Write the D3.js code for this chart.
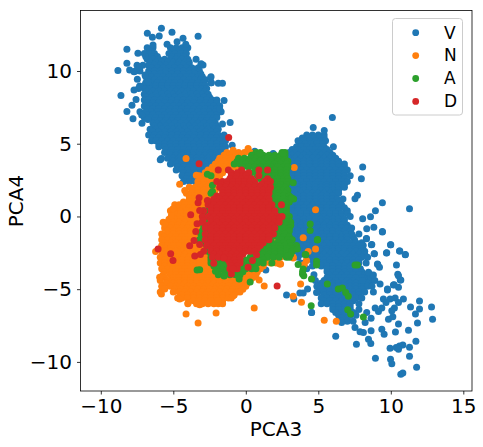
<!DOCTYPE html>
<html>
<head>
<meta charset="utf-8">
<script src="https://d3js.org/d3.v7.min.js"></script>
<style>
  html, body { margin: 0; padding: 0; background: #fff; }
  svg { display: block; }
  text { font-family: "DejaVu Sans", sans-serif; fill: #000; }
</style>
</head>
<body>
<div id="chart"></div>
<script>
const xTicks = [-10, -5, 0, 5, 10, 15];
const yTicks = [-10, -5, 0, 5, 10];
const labels = ['V', 'N', 'A', 'D'];
const colors = ['#1f77b4', '#ff7f0e', '#2ca02c', '#d62728'];

// dense parts of each cloud, one row per PCA4 value: [y, x, x, x ...]
const vRows = [
  [11.6,-6.8,-6.4,-5.2,-4.8,-4.4,-4.0],
  [11.4,-6.6,-5.0,-4.6,-4.2],
  [11.2,-7.0,-6.6,-6.3,-5.3,-4.9,-4.5,-4.1],
  [11.0,-6.9,-6.5,-6.1,-5.1,-4.7,-4.3],
  [10.8,-6.8,-6.4,-6.0,-5.6,-5.2,-4.8,-4.4,-4.0],
  [10.6,-6.6,-6.2,-5.8,-5.4,-5.0,-4.6,-4.2,-3.9],
  [10.4,-7.5,-7.1,-6.7,-6.3,-5.9,-5.5,-5.1,-4.7,-4.3,-3.9,-3.1],
  [10.2,-6.5,-6.1,-5.7,-5.3,-4.9,-4.5,-4.1,-3.7,-3.3],
  [10.0,-7.6,-7.3,-6.7,-6.3,-5.9,-5.5,-5.1,-4.7,-4.3,-3.9,-3.5,-3.2],
  [9.8,-6.7,-6.3,-5.9,-5.5,-5.1,-4.7,-4.3,-3.9,-3.5,-3.1],
  [9.6,-6.9,-6.5,-6.1,-5.7,-5.3,-4.9,-4.5,-4.1,-3.7,-3.3,-3.0,-2.4],
  [9.4,-6.7,-6.3,-5.9,-5.5,-5.1,-4.7,-4.3,-3.9,-3.5,-3.1,-2.8],
  [9.2,-6.9,-6.4,-6.1,-5.7,-5.3,-4.9,-4.5,-4.1,-3.7,-3.3,-2.9,-2.4],
  [9.0,-7.0,-6.6,-6.2,-5.8,-5.4,-5.0,-4.6,-4.2,-3.8,-3.4,-3.0,-2.8],
  [8.8,-7.4,-7.0,-6.6,-6.2,-5.8,-5.4,-5.0,-4.6,-4.2,-3.8,-3.4,-3.0,-2.7],
  [8.6,-6.8,-6.4,-6.0,-5.6,-5.2,-4.8,-4.4,-4.0,-3.6,-3.2,-2.8],
  [8.4,-7.0,-6.6,-6.2,-5.8,-5.4,-5.0,-4.6,-4.2,-3.8,-3.4,-3.0,-2.6],
  [8.2,-6.9,-6.5,-6.1,-5.7,-5.3,-4.9,-4.5,-4.1,-3.7,-3.3,-2.9,-2.5],
  [8.0,-7.0,-6.7,-6.3,-5.9,-5.5,-5.1,-4.7,-4.3,-3.9,-3.5,-3.1,-2.7,-2.3,-2.0],
  [7.8,-6.8,-6.4,-6.0,-5.6,-5.2,-4.8,-4.4,-4.0,-3.6,-3.2,-2.8,-2.4,-2.0],
  [7.6,-7.0,-6.6,-6.2,-5.8,-5.4,-5.0,-4.6,-4.2,-3.8,-3.4,-3.0,-2.6,-2.2,-1.8],
  [7.4,-6.8,-6.4,-6.0,-5.6,-5.2,-4.8,-4.4,-4.0,-3.6,-3.2,-2.8,-2.4,-2.0],
  [7.2,-7.3,-6.9,-6.5,-6.1,-5.7,-5.3,-4.9,-4.5,-4.1,-3.7,-3.3,-2.9,-2.5,-2.1,-1.7],
  [7.0,-6.8,-6.4,-6.0,-5.6,-5.2,-4.8,-4.4,-4.0,-3.6,-3.2,-2.8,-2.4,-2.0],
  [6.8,-7.0,-6.6,-6.2,-5.8,-5.4,-5.0,-4.6,-4.2,-3.8,-3.4,-3.0,-2.6,-2.2,-2.0],
  [6.6,-6.3,-5.9,-5.5,-5.1,-4.7,-4.3,-3.9,-3.5,-3.1,-2.7,-2.3],
  [6.4,-6.4,-6.1,-5.7,-5.3,-4.9,-4.5,-4.1,-3.7,-3.3,-2.9,-2.5,-2.1],
  [6.2,-6.3,-5.9,-5.5,-5.1,-4.7,-4.3,-3.9,-3.5,-3.1,-2.7,-2.3,-2.0],
  [6.0,-6.6,-6.2,-5.8,-5.4,-5.0,-4.6,-4.2,-3.8,-3.4,-3.0,-2.6,-2.2,-1.9],
  [5.8,-6.4,-6.0,-5.6,-5.2,-4.8,-4.4,-4.0,-3.6,-3.2,-2.8,-2.4,-2.0],
  [5.6,-6.7,-6.3,-5.9,-5.5,-5.1,-4.7,-4.3,-3.9,-3.5,-3.1,-2.7,-2.3,-1.9,-1.5],
  [5.4,-6.4,-6.0,-5.6,-5.2,-4.8,-4.4,-4.0,-3.6,-3.2,-2.8,-2.4,-2.0,-1.6],
  [5.2,-6.5,-6.2,-5.8,-5.4,-5.0,-4.6,-4.2,-3.8,-3.4,-3.0,-2.6,-2.2,-1.8,-1.4],
  [5.0,-6.0,-5.6,-5.2,-4.8,-4.4,-4.0,-3.6,-3.2,-2.8,-2.4,-2.0,-1.6],
  [4.8,-6.0,-5.6,-5.2,-4.8,-4.4,-4.0,-3.6,-3.2,-2.8,-2.4,-2.0,-1.6,-1.4],
  [4.6,-5.5,-5.1,-4.7,-4.3,-3.9,-3.5,-3.1,-2.7,-2.3,-1.9,-1.6],
  [4.4,-5.6,-5.2,-4.8,-4.4,-4.0,-3.6,-3.2,-2.8,-2.4,-2.0,-1.7],
  [4.2,-5.2,-4.8,-4.4,-4.0,-3.6,-3.2,-2.8,-2.4,-2.0],
  [4.0,-5.4,-5.0,-4.6,-4.2,-3.8,-3.4,-3.0,-2.6,-2.2,-1.8],
  [3.8,-5.0,-4.6,-4.2,-3.8,-3.4,-3.0,-2.6,-2.2],
  [3.6,-5.2,-4.8,-4.4,-4.0,-3.6,-3.2,-2.8,-2.3],
  [3.4,-4.7,-4.3,-3.9,-3.5,-3.1,-2.7,-2.4],
  [3.2,-4.8,-4.4,-4.0,-3.6,-3.2,-2.8,-2.5],
  [3.0,-4.3,-3.9,-3.5,-3.1,-2.8],
  [2.8,-4.4,-4.0,-3.6,-3.2,-3.0],
  [2.6,-4.1,-3.7,-3.3],
  [2.4,-4.3,-3.9,-3.5,-3.2],
  [5.6,4.2,4.6,5.0,5.4],
  [5.4,3.9,4.3,4.7,5.1,5.4],
  [5.2,3.6,4.0,4.4,4.8,5.2,5.5],
  [5.0,3.7,4.1,4.5,4.9,5.3],
  [4.8,3.5,3.8,4.2,4.6,5.0,5.4],
  [4.6,3.2,3.6,4.0,4.4,4.8,5.2,5.6],
  [4.4,3.0,3.4,3.8,4.2,4.6,5.0,5.4,5.8],
  [4.2,2.8,3.2,3.6,4.0,4.4,4.8,5.2,5.6,6.0],
  [4.0,2.6,3.0,3.4,3.8,4.2,4.6,5.0,5.4,5.8,6.2],
  [3.8,2.4,2.8,3.2,3.6,4.0,4.4,4.8,5.2,5.6,6.0,6.4],
  [3.6,2.8,3.2,3.6,4.0,4.4,4.8,5.2,5.6,6.0,6.4,6.8],
  [3.4,2.4,2.8,3.2,3.6,4.0,4.4,4.8,5.2,5.6,6.0,6.4,6.8],
  [3.2,2.6,3.0,3.4,3.8,4.2,4.6,5.0,5.4,5.8,6.2,6.6,7.0],
  [3.0,2.4,2.8,3.2,3.6,4.0,4.4,4.8,5.2,5.6,6.0,6.4,6.8],
  [2.8,2.8,3.2,3.6,4.0,4.4,4.8,5.2,5.6,6.0,6.4,6.8,7.2],
  [2.6,2.4,2.8,3.2,3.6,4.0,4.4,4.8,5.2,5.6,6.0,6.4,6.8],
  [2.4,2.6,3.0,3.4,3.8,4.2,4.6,5.0,5.4,5.8,6.2,6.6,7.0],
  [2.2,2.4,2.8,3.2,3.6,4.0,4.4,4.8,5.2,5.6,6.0,6.4,6.8],
  [2.0,2.8,3.2,3.6,4.0,4.4,4.8,5.2,5.6,6.0,6.4,6.8],
  [1.8,2.4,2.8,3.2,3.6,4.0,4.4,4.8,5.2,5.6,6.0,6.4],
  [1.6,2.6,3.0,3.4,3.8,4.2,4.6,5.0,5.4,5.8,6.2,6.4],
  [1.4,2.4,2.8,3.2,3.6,4.0,4.4,4.8,5.2,5.6,6.0],
  [1.2,2.8,3.2,3.6,4.0,4.4,4.8,5.2,5.6,6.0,6.3,6.7],
  [1.0,2.4,2.8,3.2,3.6,4.0,4.4,4.8,5.2,5.6,6.0,6.4],
  [0.8,2.6,3.0,3.4,3.8,4.2,4.6,5.0,5.4,5.8,6.2,6.6],
  [0.6,2.4,2.8,3.2,3.6,4.0,4.4,4.8,5.2,5.6,6.0,6.4,6.8],
  [0.4,2.8,3.2,3.6,4.0,4.4,4.8,5.2,5.6,6.0,6.4,7.0],
  [0.2,2.4,3.0,3.4,3.8,4.2,4.6,5.0,5.4,5.8,6.2,6.6,7.0],
  [0.0,2.6,3.0,3.4,3.8,4.2,4.6,5.0,5.4,5.8,6.2,6.6,7.2],
  [-0.2,2.4,3.2,3.6,4.0,4.4,4.8,5.2,5.6,6.0,6.4,6.8],
  [-0.4,2.8,3.2,3.6,4.0,4.4,4.8,5.2,5.6,6.0,6.4,6.8],
  [-0.6,2.8,3.4,3.8,4.2,4.6,5.0,5.4,5.8,6.2,6.6,7.0],
  [-0.8,2.6,3.0,3.4,3.8,4.2,4.6,5.0,5.4,5.8,6.2,6.6,7.0,7.3],
  [-1.0,3.2,3.6,4.0,4.4,4.8,5.2,5.6,6.0,6.4,6.8,7.2],
  [-1.2,2.9,3.2,3.6,4.0,4.4,4.8,5.2,5.6,6.0,6.4,6.9,7.3,7.8],
  [-1.4,3.4,3.8,4.2,4.6,5.0,5.4,5.8,6.2,6.6,7.0,7.4],
  [-1.6,3.1,3.4,3.8,4.2,4.6,5.0,5.4,5.8,6.2,6.6,7.0,7.5],
  [-1.8,3.3,3.6,4.0,4.4,4.8,5.2,5.6,6.0,6.4,6.8,7.2,7.6,8.0],
  [-2.0,3.4,3.8,4.2,4.6,5.0,5.4,5.8,6.2,6.6,7.0,7.4,7.8,8.1],
  [-2.2,3.6,4.0,4.4,4.8,5.2,5.6,6.0,6.4,6.8,7.2,7.6,8.0],
  [-2.4,3.5,4.0,4.4,4.8,5.2,5.6,6.0,6.4,6.8,7.2,7.6,8.0,8.2],
  [-2.6,3.8,4.2,4.6,5.0,5.4,5.8,6.2,6.6,7.0,7.4,7.8,8.2],
  [-2.8,3.6,4.4,4.8,5.2,5.6,6.0,6.4,6.8,7.2,7.6,8.0,8.4],
  [-3.0,4.2,4.6,5.0,5.4,5.8,6.2,6.6,7.0,7.4,7.8],
  [-3.2,3.8,5.0,5.4,5.8,6.2,6.6,7.0,7.4,7.8,8.3],
  [-3.4,4.6,5.2,5.6,6.0,6.4,6.8,7.2,7.6],
  [-3.6,4.2,5.6,6.0,6.4,6.8,7.2,7.6,7.9],
  [-3.8,5.6,6.0,6.4,6.8,7.2,7.6,8.0],
  [-4.0,4.7,5.7,6.2,6.6,7.0,7.4,7.8,8.2,8.6],
  [-4.2,5.6,6.0,6.4,6.8,7.2,7.6,8.0,8.4],
  [-4.4,4.8,5.4,5.8,6.2,6.6,7.0,7.4,7.8,8.2,8.6,8.9],
  [-4.6,5.2,5.6,6.0,6.4,6.8,7.2,7.6,8.0,8.4],
  [-4.8,4.9,5.2,5.6,6.0,6.4,6.8,7.2,7.6,8.0,8.4,8.7],
  [-5.0,5.2,5.6,6.0,6.4,6.8,7.2,7.6,8.0],
  [-5.2,5.0,5.4,5.8,6.2,6.6,7.0,7.4,7.8,8.2,8.8],
  [-5.4,5.4,5.8,6.2,6.6,7.0,7.4,7.8],
  [-5.6,5.2,5.6,6.0,6.4,6.8,7.2,7.6,8.0],
  [-5.8,5.4,5.8,6.2,6.6,7.0,7.4],
  [-6.0,5.2,5.6,6.0,6.4,6.8,7.2,7.8],
  [-6.2,6.0,6.4,6.8,7.2],
  [-6.4,6.0,6.4,6.8,7.2,7.8],
  [-6.6,6.2,6.6,7.0,7.4],
  [-6.8,6.4,6.8,7.2,7.6],
  [-7.0,6.6,7.0],
  [-7.2,6.6,7.0,7.4]
];
const vPoints = [
  [-5.82,12.94],[-6.79,12.6],[-5.09,12.66],[-3.29,12.39],[-5.97,12.41],[-6.44,12.32],[-4.33,12.25],[-4.74,12.02],
  [-5.43,11.84],[-6.4,11.79],[-8.2,11.49],[-4.14,11.84],[-7.44,11.22],[-8.82,10.04],[-8.2,10.53],[-8.01,10.07],
  [-8.61,8.32],[-8.2,7.22],[-7.85,7.64],[-7.57,8.04],[-7.78,6.71],[-7.16,6.4],[-7.18,6.97],[-6.75,6.67],[-7.71,8.69],
  [-7.48,9.43],[-7.71,9.95],[-7.32,10.25],[-6.95,9.72],[-6.75,9.26],[-7.32,8.97],[-1.5,7.98],[-1.61,9.15],[-1.9,9.15],
  [-2.42,9.56],[-2.37,9.2],[-2.95,10.41],[-3.43,10.8],[-3.08,10.5],[-1.08,6.46],[-1.61,6.35],[-1.8,7.38],[-0.94,4.9],
  [-5.82,3.98],[-5.9,3.9],[0.62,4.48],[1.89,4.32],
  [5.97,6.8],[4.65,6.11],[5.41,5.91],[6.04,4.8],[8.06,3.4],[7.97,2.6],[7.7,1.45],[7.53,1.22],[9.42,0.94],[11.29,0.53],
  [8.94,0.39],[8.6,-0.02],[8.06,-0.16],[8.83,-0.74],[8.34,-0.85],[9.42,-1.06],[8.32,-1.52],[9.98,-1.95],[8.66,-1.95],
  [10.62,-2.37],[9.7,-2.51],[11.0,-2.64],[8.87,-2.57],[10.39,-3.33],[9.08,-3.26],[8.46,-3.89],[10.53,-4.07],[10.69,-4.37],
  [10.23,-4.69],[9.77,-4.99],[9.26,-4.64],[10.0,-1.95],[9.72,-2.5],[10.6,-2.37],[11.0,-2.62],[9.1,-3.31],
  [9.22,-3.49],[10.48,-3.98],[10.65,-4.37],[8.46,-3.84],[8.8,-4.02],[10.18,-4.71],[10.53,-4.87],[9.77,-5.06],
  [9.49,-5.68],[9.95,-5.68],[10.3,-5.61],[10.87,-5.68],[10.53,-5.91],[11.98,-5.82],[11.36,-6.23],[11.98,-6.37],[11.7,-6.71],
  [12.81,-6.23],[12.88,-7.06],[11.84,-7.33],[11.22,-7.82],[10.53,-7.4],[10.32,-7.95],[9.84,-7.06],[10.14,-6.9],[10.25,-6.3],
  [10.07,-6.48],[8.92,-6.3],[9.15,-6.53],[9.38,-6.3],[9.67,-5.91],[8.64,-6.99],[8.34,-6.6],[8.23,-7.29],[9.38,-7.75],[9.54,-8.09],
  [8.64,-7.86],[8.11,-7.98],[7.53,-7.63],[7.88,-7.93],[8.46,-8.44],[8.62,-8.74],[7.63,-8.78],[6.2,-8.23],[11.73,-8.58],[11.29,-8.99],
  [9.95,-9.06],[10.37,-9.01],[10.6,-8.9],[10.83,-8.83],[10.53,-9.13],[11.29,-9.61],[8.94,-9.75],[9.98,-9.82],[10.07,-10.12],
  [11.78,-10.37],[10.69,-10.85],[10.83,-10.76],[4.54,-6.6],[8.32,-1.54],[8.69,-1.93],[8.85,-2.57],[9.42,-1.03],[8.06,-4.41],[6.61,-7.29],
  [1.38,-3.68],[2.81,-5.4],[3.31,-5.68],[3.73,-5.26],[3.96,-5.26],[4.26,-4.99],[4.53,-6.6],[4.88,-5.22]
];

const nRows = [
  [4.4,-1.3,-0.9,-0.5,-0.1,0.3],
  [4.2,-1.5,-1.1,-0.7,-0.3],
  [4.0,-1.8,-1.4,-1.0,-0.6,-0.3],
  [3.8,-1.9,-1.5,-1.1,-0.7],
  [3.6,-2.1,-1.7,-1.3,-1.0,-0.6],
  [3.4,-2.3,-1.9,-1.5,-1.1,-0.7],
  [3.2,-2.6,-2.2,-1.8,-1.5,-1.1],
  [3.0,-2.8,-2.4,-2.0,-1.6],
  [2.8,-3.2,-2.9,-2.5,-2.1,-1.8],
  [2.6,-3.1,-2.7,-2.3,-1.9],
  [2.4,-3.3,-2.9,-2.5,-2.1],
  [2.2,-3.3,-2.9,-2.5,-2.1],
  [2.0,-3.9,-3.5,-3.1,-2.7,-2.3],
  [1.8,-3.7,-3.3,-2.9,-2.5,-2.1],
  [1.6,-4.1,-3.7,-3.3,-2.9,-2.5],
  [1.4,-3.9,-3.5,-3.1,-2.7,-2.3],
  [1.2,-3.9,-3.5,-3.1,-2.7,-2.3],
  [1.0,-4.3,-3.9,-3.5,-3.1,-2.7],
  [0.8,-4.9,-4.6,-4.2,-3.8,-3.4,-3.0,-2.7],
  [0.6,-4.7,-4.3,-3.9,-3.5,-3.1,-2.7],
  [0.4,-5.2,-4.9,-4.5,-4.1,-3.7,-3.3,-2.9],
  [0.2,-4.9,-4.5,-4.1,-3.7,-3.3,-2.9],
  [0.0,-5.1,-4.7,-4.3,-3.9,-3.5,-3.1],
  [-0.2,-5.3,-4.9,-4.5,-4.1,-3.7,-3.3,-2.9],
  [-0.4,-5.7,-5.4,-5.0,-4.6,-4.2,-3.8,-3.4,-3.0],
  [-0.6,-5.5,-5.1,-4.7,-4.3,-3.9,-3.5,-3.1,-2.8],
  [-0.8,-5.6,-5.2,-4.8,-4.4,-4.0,-3.6,-3.2,-2.9],
  [-1.0,-5.4,-5.0,-4.6,-4.2,-3.8,-3.4,-3.0,-2.7],
  [-1.2,-5.8,-5.4,-5.0,-4.6,-4.2,-3.8,-3.4,-3.0],
  [-1.4,-5.6,-5.2,-4.8,-4.4,-4.0,-3.6,-3.2,-2.8],
  [-1.6,-5.8,-5.4,-5.0,-4.6,-4.2,-3.8,-3.4,-3.1],
  [-1.8,-5.6,-5.2,-4.8,-4.4,-4.0,-3.6,-3.2,-2.8],
  [-2.0,-5.8,-5.4,-5.0,-4.6,-4.2,-3.8,-3.4,-3.0],
  [-2.2,-5.6,-5.2,-4.8,-4.4,-4.0,-3.6,-3.2,-2.8],
  [-2.4,-5.8,-5.5,-5.2,-4.8,-4.4,-4.0,-3.6,-3.2,-2.9],
  [-2.6,-5.6,-5.0,-4.6,-4.2,-3.8,-3.4,-3.0,-2.6],
  [-2.8,-5.9,-5.5,-5.1,-4.7,-4.3,-3.9,-3.5,-3.1,-2.7,-2.4,2.0,2.4],
  [-3.0,-5.6,-5.2,-4.8,-4.4,-4.0,-3.6,-3.2,-2.8,-2.4,-2.0,1.4,1.8],
  [-3.2,-5.9,-5.6,-5.2,-4.8,-4.4,-4.0,-3.6,-3.2,-2.8,-2.4,-2.0,-1.6,0.5,0.9,1.3,1.7,2.1],
  [-3.4,-5.6,-5.2,-4.8,-4.4,-4.0,-3.6,-3.2,-2.8,-2.4,-2.0,-1.6,-1.2,-0.8,-0.4,0,0.4,0.8,1.2],
  [-3.6,-5.8,-5.4,-5.0,-4.6,-4.2,-3.8,-3.4,-3.0,-2.6,-2.2,-1.8,-1.4,-1.0,-0.6,-0.2,0.2,0.6,1.0],
  [-3.8,-5.6,-5.2,-4.8,-4.4,-4.0,-3.6,-3.2,-2.8,-2.4,-2.0,-1.6,-1.2,-0.8,-0.4,0,0.4,0.8],
  [-4.0,-5.7,-5.2,-4.8,-4.4,-4.0,-3.6,-3.2,-2.8,-2.4,-2.0,-1.6,-1.2,-0.8,-0.4,0,0.4,0.7],
  [-4.2,-5.6,-5.0,-4.6,-4.2,-3.8,-3.4,-3.0,-2.6,-2.2,-1.8,-1.4,-1.0,-0.6,-0.2,0.2,0.5],
  [-4.4,-5.9,-5.4,-5.0,-4.6,-4.2,-3.8,-3.4,-3.0,-2.6,-2.2,-1.8,-1.4,-1.0,-0.6,-0.2,0.3],
  [-4.6,-5.5,-5.0,-4.6,-4.2,-3.8,-3.4,-3.0,-2.6,-2.2,-1.8,-1.4,-1.0,-0.6,-0.2,0.1],
  [-4.8,-5.8,-5.2,-4.8,-4.4,-4.0,-3.6,-3.2,-2.8,-2.4,-2.0,-1.6,-1.2,-0.8,-0.4,0],
  [-5.0,-4.9,-4.5,-4.1,-3.7,-3.3,-2.9,-2.5,-2.1,-1.7,-1.3,-0.9,-0.5,-0.2],
  [-5.2,-5.9,-5.0,-4.6,-4.2,-3.8,-3.4,-3.0,-2.6,-2.2,-1.8,-1.4,-1.0,-0.6,-0.4],
  [-5.4,-4.4,-4.0,-3.6,-3.2,-2.8,-2.4,-2.0,-1.6,-1.2,-0.8],
  [-5.6,-4.7,-4.4,-4.0,-3.6,-3.2,-2.8,-2.4,-2.0,-1.6,-1.2,-1.0],
  [-5.8,-3.6,-3.2,-2.8,-2.4,-2.0,-1.6],
  [-6.0,-4.0,-3.4,-3.0,-2.6,-2.2,-1.9,-1.6]
];
const nPoints = [
  [-4.12,-6.71],[-3.29,-7.33],[-2.05,-6.64],[0.58,-6.3],[1.27,-4.78],[0.92,-4.37],[-4.12,3.98],[-0.87,4.55],[0.16,4.67],
  [3.34,3.36],[4.81,0.46],[3.96,-1.47],[4.81,-2.23],[4.3,-2.41],[4.19,-3.03],[3.78,-4.64],[3.84,-5.89],[3.27,-5.49],
  [-3.41,2.83],[-4.56,2.21],[-4.21,1.79],[-6.22,-2.41],[-5.82,-5.33],[-5.59,-4.99],[-5.94,-4.18],[-4.56,-5.68],[-3.98,-5.95],
  [-3.18,-6.07],[-1.91,-5.79],[-0.87,-5.45],[2.35,-3.26],[1.66,-2.92],[3.27,-2.8],[2.58,-2.0],[-5.59,-0.51],[-5.02,0.53],[-5.13,0.07],
  [4.03,-3.31],[3.27,-2.85],[2.4,-3.26],[1.84,-2.98],[2.0,-1.6],[5.41,-7.13],[6.24,-7.2]
];

const aRows = [
  [4.4,0.7,1.0,2.5,2.7],
  [4.2,0.4,0.8,1.2,1.6,2.0,2.4,2.7],
  [4.0,-0.5,-0.1,0.3,0.7,1.1,1.5,1.9,2.3,2.7],
  [3.8,-0.6,-0.2,0.2,0.6,1.0,1.4,1.8,2.2,2.6,2.9],
  [3.6,-0.8,-0.4,0,0.4,0.8,1.2,1.6,2.0,2.4,2.8],
  [3.4,-0.2,0.2,0.6,1.0,1.4,1.8,2.2,2.6,2.9],
  [3.2,0.8,1.2,1.6,2.0,2.4,2.8],
  [3.0,0.4,0.8,1.2,1.6,2.0,2.4,2.8],
  [2.8,-2.4,0.8,1.2,1.6,2.0,2.4,2.8],
  [2.6,1.0,1.4,1.8,2.2,2.6,2.9],
  [2.4,1.4,1.8,2.2,2.6,2.9],
  [2.2,1.2,1.6,2.0,2.4,2.8],
  [2.0,1.5,1.9,2.3,2.7],
  [1.8,1.4,1.8,2.2,2.6,2.9],
  [1.6,-2.4,1.5,1.9,2.3,2.7],
  [1.4,1.4,1.8,2.2,2.6,3.0],
  [1.2,1.4,1.8,2.2,2.6,3.0,3.3],
  [1.0,1.5,1.9,2.3,2.7,3.0],
  [0.8,1.6,2.1,2.5,2.8],
  [0.6,1.7,2.1,2.5,2.8],
  [0.4,-2.9,-2.6,1.8,2.4,2.8],
  [0.2,-2.8,-2.4,2.0,2.4,2.8],
  [0.0,-2.9,-2.6,2.3,2.7,3.0],
  [-0.2,-2.9,-2.6,2.1,2.5,2.9],
  [-0.4,-3.0,-2.8,2.5,2.9,3.1],
  [-0.6,-2.9,-2.6,2.0,2.4,2.8,3.1],
  [-0.8,-2.9,-2.6,2.2,2.6,3.0],
  [-1.0,-3.0,-2.7,1.9,2.3,2.7,3.0],
  [-1.2,-3.1,-2.8,2.3,2.7],
  [-1.4,-3.0,-2.7,1.8,2.2,2.6,3.0],
  [-1.6,-3.2,-2.9,1.6,2.5,2.9,3.2],
  [-1.8,-2.9,-2.6,1.4,1.8,2.2,2.6,3.0],
  [-2.0,-2.7,1.5,1.9,2.3,2.7,3.1,3.5],
  [-2.2,-2.6,0.8,1.2,1.6,2.0,2.4,2.8,3.2],
  [-2.4,-2.6,0.8,1.2,1.6,2.0,2.4,2.8,3.2],
  [-2.6,-2.4,-2.1,0.4,0.8,1.2,1.6,2.0,2.4,2.8,3.1],
  [-2.8,-2.4,-2.0,0.3,0.7,1.1,1.5,1.9,2.3,2.8,3.0],
  [-3.0,-2.4,-2.0,-1.6,-1.2,-0.8,-0.4,0,0.4,0.8,1.2],
  [-3.2,-2.4,-2.0,-1.6,-1.2,-0.8,-0.4,0,0.4,0.8,1.2,1.8],
  [-3.4,-2.2,-1.8,-1.4,-1.0,-0.6,-0.2,0.2,0.6],
  [-3.6,-2.0,-1.6,-1.2,-0.8,-0.4,0,0.4,0.7],
  [-3.8,-1.9,-1.4,-1.0,-0.6,-0.2],
  [-4.0,-1.9,-1.5,-1.1,-0.7,-0.4]
];
const aPoints = [
  [-2.65,2.9],[-3.18,-3.66],[-3.36,-3.68],[-0.46,-4.3],[0.3,-4.51],[-1.5,-4.09],[-2.09,-3.77],[-1.29,-3.61],[4.44,-0.51],[4.44,-0.97],
  [4.95,-1.59],[4.14,-2.64],[4.88,-3.08],[4.88,-3.33],[3.61,-3.31],[3.96,-3.61],[3.91,-3.95],[4.53,-4.3],[4.51,-6.14],[3.27,2.32],
  [2.58,4.32],[3.15,1.29],[3.55,-2.23],[2.92,-2.69],[0.97,4.32],[-2.3,2.14],[-2.3,1.72],[7.7,-3.33],[7.53,-3.33],[4.93,-1.61],[4.1,-2.62],
  [4.0,-4.07],[3.92,-3.77],[5.62,-4.64],[6.38,-4.99],[6.66,-4.92],[6.89,-5.22],[7.07,-5.49],[7.03,-6.41],[7.23,-6.71],[8.11,-6.92]
];

const dRows = [
  [3.2,-1.9,-1.2,-0.3,0.9,1.5],
  [3.0,-1.0,-0.6,-0.2,0.2],
  [2.8,-1.0,-0.6,-0.2,0.0,0.9],
  [2.6,-1.1,-0.7,-0.3,0.1,0.4,1.5],
  [2.4,-2.0,-1.6,-1.3,-0.9,-0.5,-0.1,0.3,0.6,1.3,1.7],
  [2.2,-1.7,-1.3,-0.9,-0.5,-0.1,0.3,0.7,1.1,1.5],
  [2.0,-1.8,-1.4,-1.0,-0.6,-0.2,0.2,0.6,1.0,1.4,1.7],
  [1.8,-1.6,-1.2,-0.8,-0.4,0,0.4,0.8,1.2,1.6],
  [1.6,-1.6,-1.2,-0.8,-0.4,0,0.4,0.8,1.2,1.6],
  [1.4,-2.0,-1.6,-1.2,-0.8,-0.4,0,0.4,0.8,1.2,1.5],
  [1.2,-2.2,-1.8,-1.4,-1.0,-0.6,-0.2,0.2,0.6,1.0,1.4,1.6],
  [1.0,-2.4,-2.0,-1.6,-1.2,-0.8,-0.4,0,0.4,0.8,1.2,1.6],
  [0.8,-2.6,-2.2,-1.8,-1.4,-1.0,-0.6,-0.2,0.2,0.6,1.0,1.4,1.8,2.46],
  [0.6,-2.4,-2.0,-1.6,-1.2,-0.8,-0.4,0,0.4,0.8,1.2,1.6],
  [0.4,-2.9,-2.4,-2.0,-1.6,-1.2,-0.8,-0.4,0,0.4,0.8,1.2,1.6,2.0],
  [0.2,-2.4,-2.0,-1.6,-1.2,-0.8,-0.4,0,0.4,0.8,1.2,1.6,2.0],
  [0.0,-3.0,-2.6,-2.2,-1.8,-1.4,-1.0,-0.6,-0.2,0.2,0.6,1.0,1.4,1.8,2.2,2.5],
  [-0.2,-2.4,-2.0,-1.6,-1.2,-0.8,-0.4,0,0.4,0.8,1.2,1.6,2.0,2.3],
  [-0.4,-3.0,-2.4,-2.0,-1.6,-1.2,-0.8,-0.4,0,0.4,0.8,1.2,1.6,2.0,2.3],
  [-0.6,-2.6,-2.2,-1.8,-1.4,-1.0,-0.6,-0.2,0.2,0.6,1.0,1.4,1.8],
  [-0.8,-2.8,-2.4,-2.0,-1.6,-1.2,-0.8,-0.4,0,0.4,0.8,1.2,1.6,2.0],
  [-1.0,-2.4,-2.0,-1.6,-1.2,-0.8,-0.4,0,0.4,0.8,1.2,1.6],
  [-1.2,-2.8,-2.2,-1.8,-1.4,-1.0,-0.6,-0.2,0.2,0.6,1.0,1.4,1.9],
  [-1.4,-2.4,-2.0,-1.6,-1.2,-0.8,-0.4,0,0.4,0.8,1.2,1.6],
  [-1.6,-2.8,-2.4,-2.0,-1.6,-1.2,-0.8,-0.4,0,0.4,0.8,1.2,1.6],
  [-1.8,-2.4,-2.0,-1.6,-1.2,-0.8,-0.4,0,0.4,0.8,1.2],
  [-2.0,-2.7,-2.2,-1.8,-1.4,-1.0,-0.6,-0.2,0.2,0.6,1.0],
  [-2.2,-2.4,-2.0,-1.6,-1.2,-0.8,-0.4,0,0.4,0.8],
  [-2.4,-2.9,-2.4,-2.0,-1.6,-1.2,-0.8,-0.4,0,0.3,0.6],
  [-2.6,-2.2,-1.8,-1.4,-1.0,-0.6,-0.2],
  [-2.8,-2.3,-1.9,-1.5,-1.1,-0.7,-0.4],
  [-3.0,-1.2,-0.8,-0.4],
  [-3.2,-1.1,-0.7,-0.4],
  [-3.4,-1.0,-0.6],
  [-3.6,-1.1,-0.6]
];
const dPoints = [
  [-3.22,3.63],[-6.05,-2.23],[-5.18,-2.57],[-5.02,-3.03],[-3.8,0.11],[-3.22,1.29],[-3.29,0.94],[-2.65,1.1],[2.16,-4.78],[-3.87,-2.02],
  [-3.57,-1.66],[-3.18,-1.93],[-3.52,-2.71],[-3.13,-2.62],[-3.45,-1.03],[-3.36,-0.5],[-2.95,-0.28],[-3.18,0.41],[0.16,-3.49],[0.46,-3.03],
  [0.74,-2.64],[-2.21,-3.22],[-1.52,-2.85],[-0.99,-3.95],[-0.87,-3.6],[-1.18,5.43]
];

const width = 483, height = 447;
const margin = { left: 80.5, right: 472, top: 10.5, bottom: 391 };

const x = d3.scaleLinear().domain([-11.4, 15.6]).range([margin.left, margin.right]);
const y = d3.scaleLinear().domain([-12.0, 14.16]).range([margin.bottom, margin.top]);

const svg = d3.select('#chart').append('svg').attr('width', width).attr('height', height);

const expand = rows => rows.flatMap(([ry, ...xs]) => xs.map(rx => [rx, ry]));
const series = [
  expand(vRows).concat(vPoints),
  expand(nRows).concat(nPoints),
  expand(aRows).concat(aPoints),
  expand(dRows).concat(dPoints)
];

// later classes paint over earlier ones
series.forEach((pts, i) => {
  svg.append('g').selectAll('circle')
    .data(pts)
    .join('circle')
    .attr('cx', d => x(d[0]))
    .attr('cy', d => y(d[1]))
    .attr('r', 3.5)
    .attr('fill', colors[i]);
});

// Axes
const xAxis = svg.append('g')
  .attr('transform', `translate(0,${margin.bottom})`)
  .call(d3.axisBottom(x).tickValues(xTicks).tickSize(3.5).tickPadding(4));
const yAxis = svg.append('g')
  .attr('transform', `translate(${margin.left},0)`)
  .call(d3.axisLeft(y).tickValues(yTicks).tickSize(3.5).tickPadding(5));
[xAxis, yAxis].forEach(a => {
  a.select('.domain').remove();
  a.selectAll('line').attr('stroke', '#000').attr('stroke-width', 0.8);
  a.selectAll('text').attr('font-size', 20).attr('font-family', '"DejaVu Sans"').attr('fill', '#000');
});

svg.append('rect')
  .attr('x', margin.left).attr('y', margin.top)
  .attr('width', margin.right - margin.left).attr('height', margin.bottom - margin.top)
  .attr('fill', 'none').attr('stroke', '#000').attr('stroke-width', 0.8);

// Axis labels
svg.append('text')
  .attr('x', 276).attr('y', 436)
  .attr('text-anchor', 'middle').attr('font-size', 20)
  .text('PCA3');
svg.append('text')
  .attr('transform', 'translate(23,201) rotate(-90)')
  .attr('text-anchor', 'middle').attr('font-size', 20)
  .text('PCA4');

// Legend
const legend = svg.append('g');
legend.append('rect')
  .attr('x', 392.5).attr('y', 18.5).attr('width', 70).attr('height', 96.5).attr('rx', 3)
  .attr('fill', '#fff').attr('fill-opacity', 0.8).attr('stroke', '#ccc').attr('stroke-width', 1);
labels.forEach((name, i) => {
  const ly = 32.7 + i * 22.9;
  legend.append('circle').attr('cx', 415.7).attr('cy', ly).attr('r', 3.4).attr('fill', colors[i]);
  legend.append('text').attr('x', 444).attr('y', ly + 5.8).attr('font-size', 17).text(name);
});
</script>
</body>
</html>
